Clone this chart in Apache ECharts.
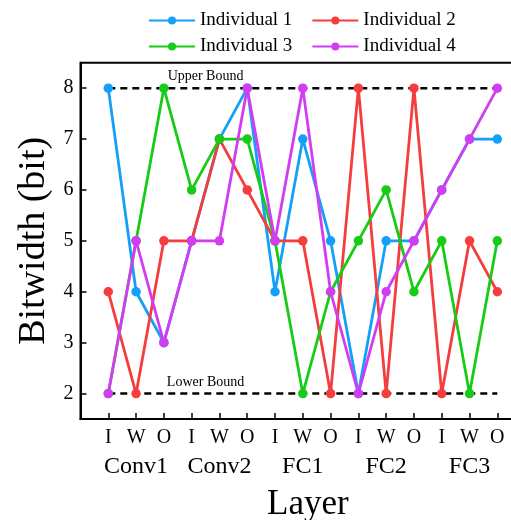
<!DOCTYPE html>
<html>
<head>
<meta charset="utf-8">
<script src="https://cdn.jsdelivr.net/npm/echarts@6/dist/echarts.min.js"></script>
<style>
html,body{margin:0;padding:0;background:#fff;}
#chart{width:511px;height:520px;}
</style>
</head>
<body>
<div id="chart"></div>
<script>
// ---- data ----
var subLabels = ['I', 'W', 'O'];
var layerGroups = ['Conv1', 'Conv2', 'FC1', 'FC2', 'FC3'];
var seriesNames = ['Individual 1', 'Individual 2', 'Individual 3', 'Individual 4'];
var ind1 = [8, 4, 3, 5, 7, 8, 4, 7, 5, 2, 5, 5, 6, 7, 7];
var ind2 = [4, 2, 5, 5, 7, 6, 5, 5, 2, 8, 2, 8, 2, 5, 4];
var ind3 = [2, 5, 8, 6, 7, 7, 5, 2, 4, 5, 6, 4, 5, 2, 5];
var ind4 = [2, 5, 3, 5, 5, 8, 5, 8, 4, 2, 4, 5, 6, 7, 8];
var yTicks = [2, 3, 4, 5, 6, 7, 8];
var upperBound = 8;
var lowerBound = 2;
var boundLabels = ['Upper Bound', 'Lower Bound'];

var colors = ['#14a0f8', '#f53d3d', '#16cc16', '#d23cf2'];
var FONT = 'Liberation Serif';

function toPoints(arr) { return arr.map(function (v, i) { return [i, v]; }); }
var nPts = ind1.length;

var chart = echarts.init(document.getElementById('chart'), null, {renderer: 'canvas'});

var dataSeries = [ind1, ind2, ind3, ind4].map(function (arr, k) {
  return {
    name: seriesNames[k],
    type: 'line',
    data: toPoints(arr),
    symbol: 'circle',
    symbolSize: 9.5,
    color: colors[k],
    lineStyle: {width: 2.8, color: colors[k]},
    itemStyle: {color: colors[k]},
    z: 3 + k,
    animation: false
  };
});

function boundSeries(val, label, dy) {
  return {
    name: label,
    type: 'line',
    data: [[0, val], [nPts - 1, val]],
    symbol: 'none',
    lineStyle: {color: '#000', width: 2.5, type: [7, 5]},
    z: 2,
    animation: false,
    markPoint: {
      symbol: 'circle', symbolSize: 0,
      data: [{coord: [3.5, val], value: label}],
      label: {show: true, formatter: label, position: 'top', distance: dy,
        color: '#000', fontFamily: FONT, fontSize: 14}
    }
  };
}

var option = {
  backgroundColor: '#fff',
  animation: false,
  legend: [
    {data: seriesNames.slice(0, 2), left: 143, top: 6, itemWidth: 46, itemHeight: 10, itemGap: 19,
     textStyle: {fontFamily: FONT, fontSize: 19, color: '#000'}},
    {data: seriesNames.slice(2, 4), left: 143, top: 32, itemWidth: 46, itemHeight: 10, itemGap: 19,
     textStyle: {fontFamily: FONT, fontSize: 19, color: '#000'}}
  ],
  grid: {left: 80.5, width: 444.6, top: 62.7, height: 356.3, show: true, borderColor: '#000', borderWidth: 2,
    containLabel: false, outerBoundsMode: 'none'},
  xAxis: {
    type: 'value', min: -1, max: nPts, interval: 1,
    name: 'Layer', nameLocation: 'middle', nameGap: 68,
    nameTextStyle: {fontFamily: FONT, fontSize: 35, color: '#000', padding: [0, 0, 0, 10]},
    axisLine: {show: true, onZero: false, lineStyle: {color: '#000', width: 2}},
    axisTick: {show: true, inside: true, length: 6, lineStyle: {color: '#000', width: 1.5}},
    splitLine: {show: false},
    axisLabel: {
      margin: 7, color: '#000', fontFamily: FONT,
      formatter: function (v) {
        if (v < 0 || v >= nPts || v !== Math.round(v)) return '';
        var s = '{a|' + subLabels[v % 3] + '}';
        if (v % 3 === 1) s += '\n{b|' + layerGroups[(v - 1) / 3] + '}';
        return s;
      },
      rich: {
        a: {fontFamily: FONT, fontSize: 20, lineHeight: 24, color: '#000'},
        b: {fontFamily: FONT, fontSize: 24, lineHeight: 34, color: '#000'}
      }
    }
  },
  yAxis: {
    type: 'value', min: 1.5, max: 8.5,
    name: 'Bitwidth (bit)', nameLocation: 'middle', nameGap: 20,
    nameTextStyle: {fontFamily: FONT, fontSize: 38, color: '#000'},
    axisLine: {show: true, onZero: false, lineStyle: {color: '#000', width: 2}},
    axisTick: {show: true, inside: true, length: 6, customValues: yTicks, lineStyle: {color: '#000', width: 1.5}},
    splitLine: {show: false},
    axisLabel: {customValues: yTicks, margin: 7, color: '#000', fontFamily: FONT, fontSize: 20}
  },
  series: [boundSeries(upperBound, boundLabels[0], 5), boundSeries(lowerBound, boundLabels[1], 4)].concat(dataSeries)
};
chart.setOption(option);
</script>
</body>
</html>
